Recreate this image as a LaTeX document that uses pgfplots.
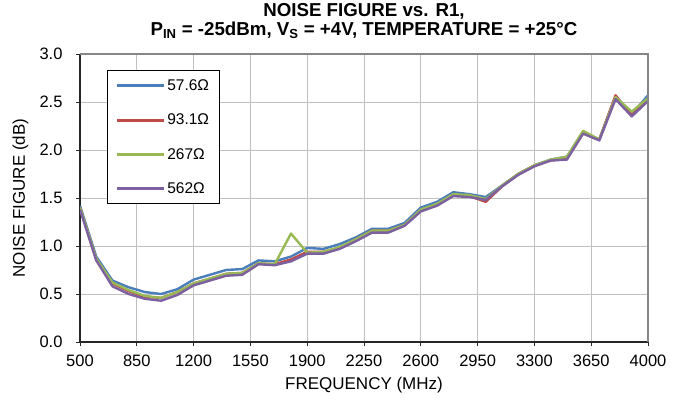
\documentclass[border=0pt]{standalone}
\usepackage{fontspec}
\setmainfont{Liberation Sans}
\usepackage{pgfplots}
\usepackage{pgfplotstable}
\pgfplotsset{compat=1.18}
\definecolor{s1}{HTML}{4A7EBB}
\definecolor{s2}{HTML}{BE4B48}
\definecolor{s3}{HTML}{98B954}
\definecolor{s4}{HTML}{7D60A0}
\definecolor{gridc}{HTML}{C0C0C0}
\definecolor{framec}{HTML}{868686}

\pgfplotstableread{
f    a    b    c    d
500  1.42 1.40 1.40 1.38
600  0.89 0.86 0.87 0.85
700  0.64 0.61 0.62 0.58
800  0.57 0.53 0.54 0.50
900  0.52 0.47 0.48 0.45
1000 0.50 0.46 0.46 0.43
1100 0.55 0.52 0.52 0.49
1200 0.65 0.61 0.61 0.59
1300 0.70 0.66 0.66 0.64
1400 0.75 0.71 0.71 0.69
1500 0.76 0.72 0.72 0.70
1600 0.85 0.82 0.82 0.81
1700 0.84 0.81 0.81 0.80
1800 0.89 0.86 1.13 0.84
1900 0.98 0.94 0.93 0.92
2000 0.97 0.94 0.94 0.92
2100 1.02 0.98 0.99 0.97
2200 1.09 1.07 1.07 1.05
2300 1.18 1.16 1.16 1.14
2400 1.18 1.16 1.16 1.14
2500 1.24 1.22 1.22 1.21
2600 1.40 1.37 1.38 1.36
2700 1.46 1.43 1.44 1.42
2800 1.56 1.53 1.54 1.52
2900 1.54 1.52 1.53 1.51
3000 1.51 1.46 1.49 1.48
3100 1.63 1.62 1.63 1.62
3200 1.75 1.75 1.75 1.74
3300 1.84 1.84 1.84 1.83
3400 1.90 1.89 1.90 1.89
3500 1.93 1.92 1.93 1.90
3600 2.18 2.18 2.20 2.17
3700 2.11 2.11 2.11 2.10
3800 2.56 2.57 2.55 2.53
3900 2.37 2.36 2.40 2.35
4000 2.57 2.53 2.54 2.51
}\datatable

\begin{document}
\begin{tikzpicture}
\useasboundingbox (-80pt,-58pt) rectangle (599pt,342pt);
\begin{axis}[
  name=ax,
  at={(0pt,0pt)}, anchor=south west,
  scale only axis, width=568pt, height=288pt,
  xmin=500, xmax=4000, ymin=0, ymax=3,
  xtick={500,850,1200,1550,1900,2250,2600,2950,3300,3650,4000},
  ytick={0,0.5,1,1.5,2,2.5,3},
  axis x line*=bottom, axis y line*=left,
  axis line style={-, line width=1.3pt, color=black!85},
  tick align=outside, major tick length=4pt,
  tick style={line width=1pt, color=black!85},
  grid=major,
  major grid style={line width=0.9pt, color=gridc},
  /pgf/number format/assume math mode=true,
  /pgf/number format/1000 sep={},
  yticklabel style={/pgf/number format/fixed, /pgf/number format/precision=1, /pgf/number format/fixed zerofill, xshift=-10pt},
  xticklabel style={yshift=-5pt},
  ticklabel style={font=\fontsize{16.5}{19}\selectfont},
  xlabel={FREQUENCY (MHz)},
  ylabel={NOISE FIGURE (dB)},
  every axis x label/.style={at={(rel axis cs:0.5,0)}, anchor=base, yshift=-47pt, font=\fontsize{17}{19}\selectfont},
  every axis y label/.style={at={(rel axis cs:0,0.5)}, anchor=base, rotate=90, yshift=55pt, font=\fontsize{17}{19}\selectfont},
  title={NOISE FIGURE vs. R1,\\P\textsubscript{IN} = -25dBm, V\textsubscript{S} = +4V, TEMPERATURE = +25°C},
  title style={at={(rel axis cs:0.5,1)}, anchor=base, yshift=13pt, align=center, font=\fontsize{18.7}{18.5}\selectfont\bfseries},
  legend style={at={(rel axis cs:0.0475,0.944)}, anchor=north west, draw=black, line width=1pt, fill=white,
     font=\fontsize{15.5}{18}\selectfont, row sep=18pt, inner xsep=8pt, inner ysep=7pt, cells={anchor=west}},
  legend image code/.code={\draw[#1, line width=2.8pt] (0pt,0pt) -- (47pt,0pt);},
  every axis plot/.append style={line width=2.4pt, line join=round},
]
\addplot[s1, no markers] table[x=f, y=a] {\datatable};
\addlegendentry{57.6Ω}
\addplot[s2, no markers] table[x=f, y=b] {\datatable};
\addlegendentry{93.1Ω}
\addplot[s3, no markers] table[x=f, y=c] {\datatable};
\addlegendentry{267Ω}
\addplot[s4, no markers] table[x=f, y=d] {\datatable};
\addlegendentry{562Ω}
\end{axis}
\draw[framec, line width=2.5pt] (ax.north west) -- (ax.north east) -- (ax.south east);
\end{tikzpicture}
\end{document}
